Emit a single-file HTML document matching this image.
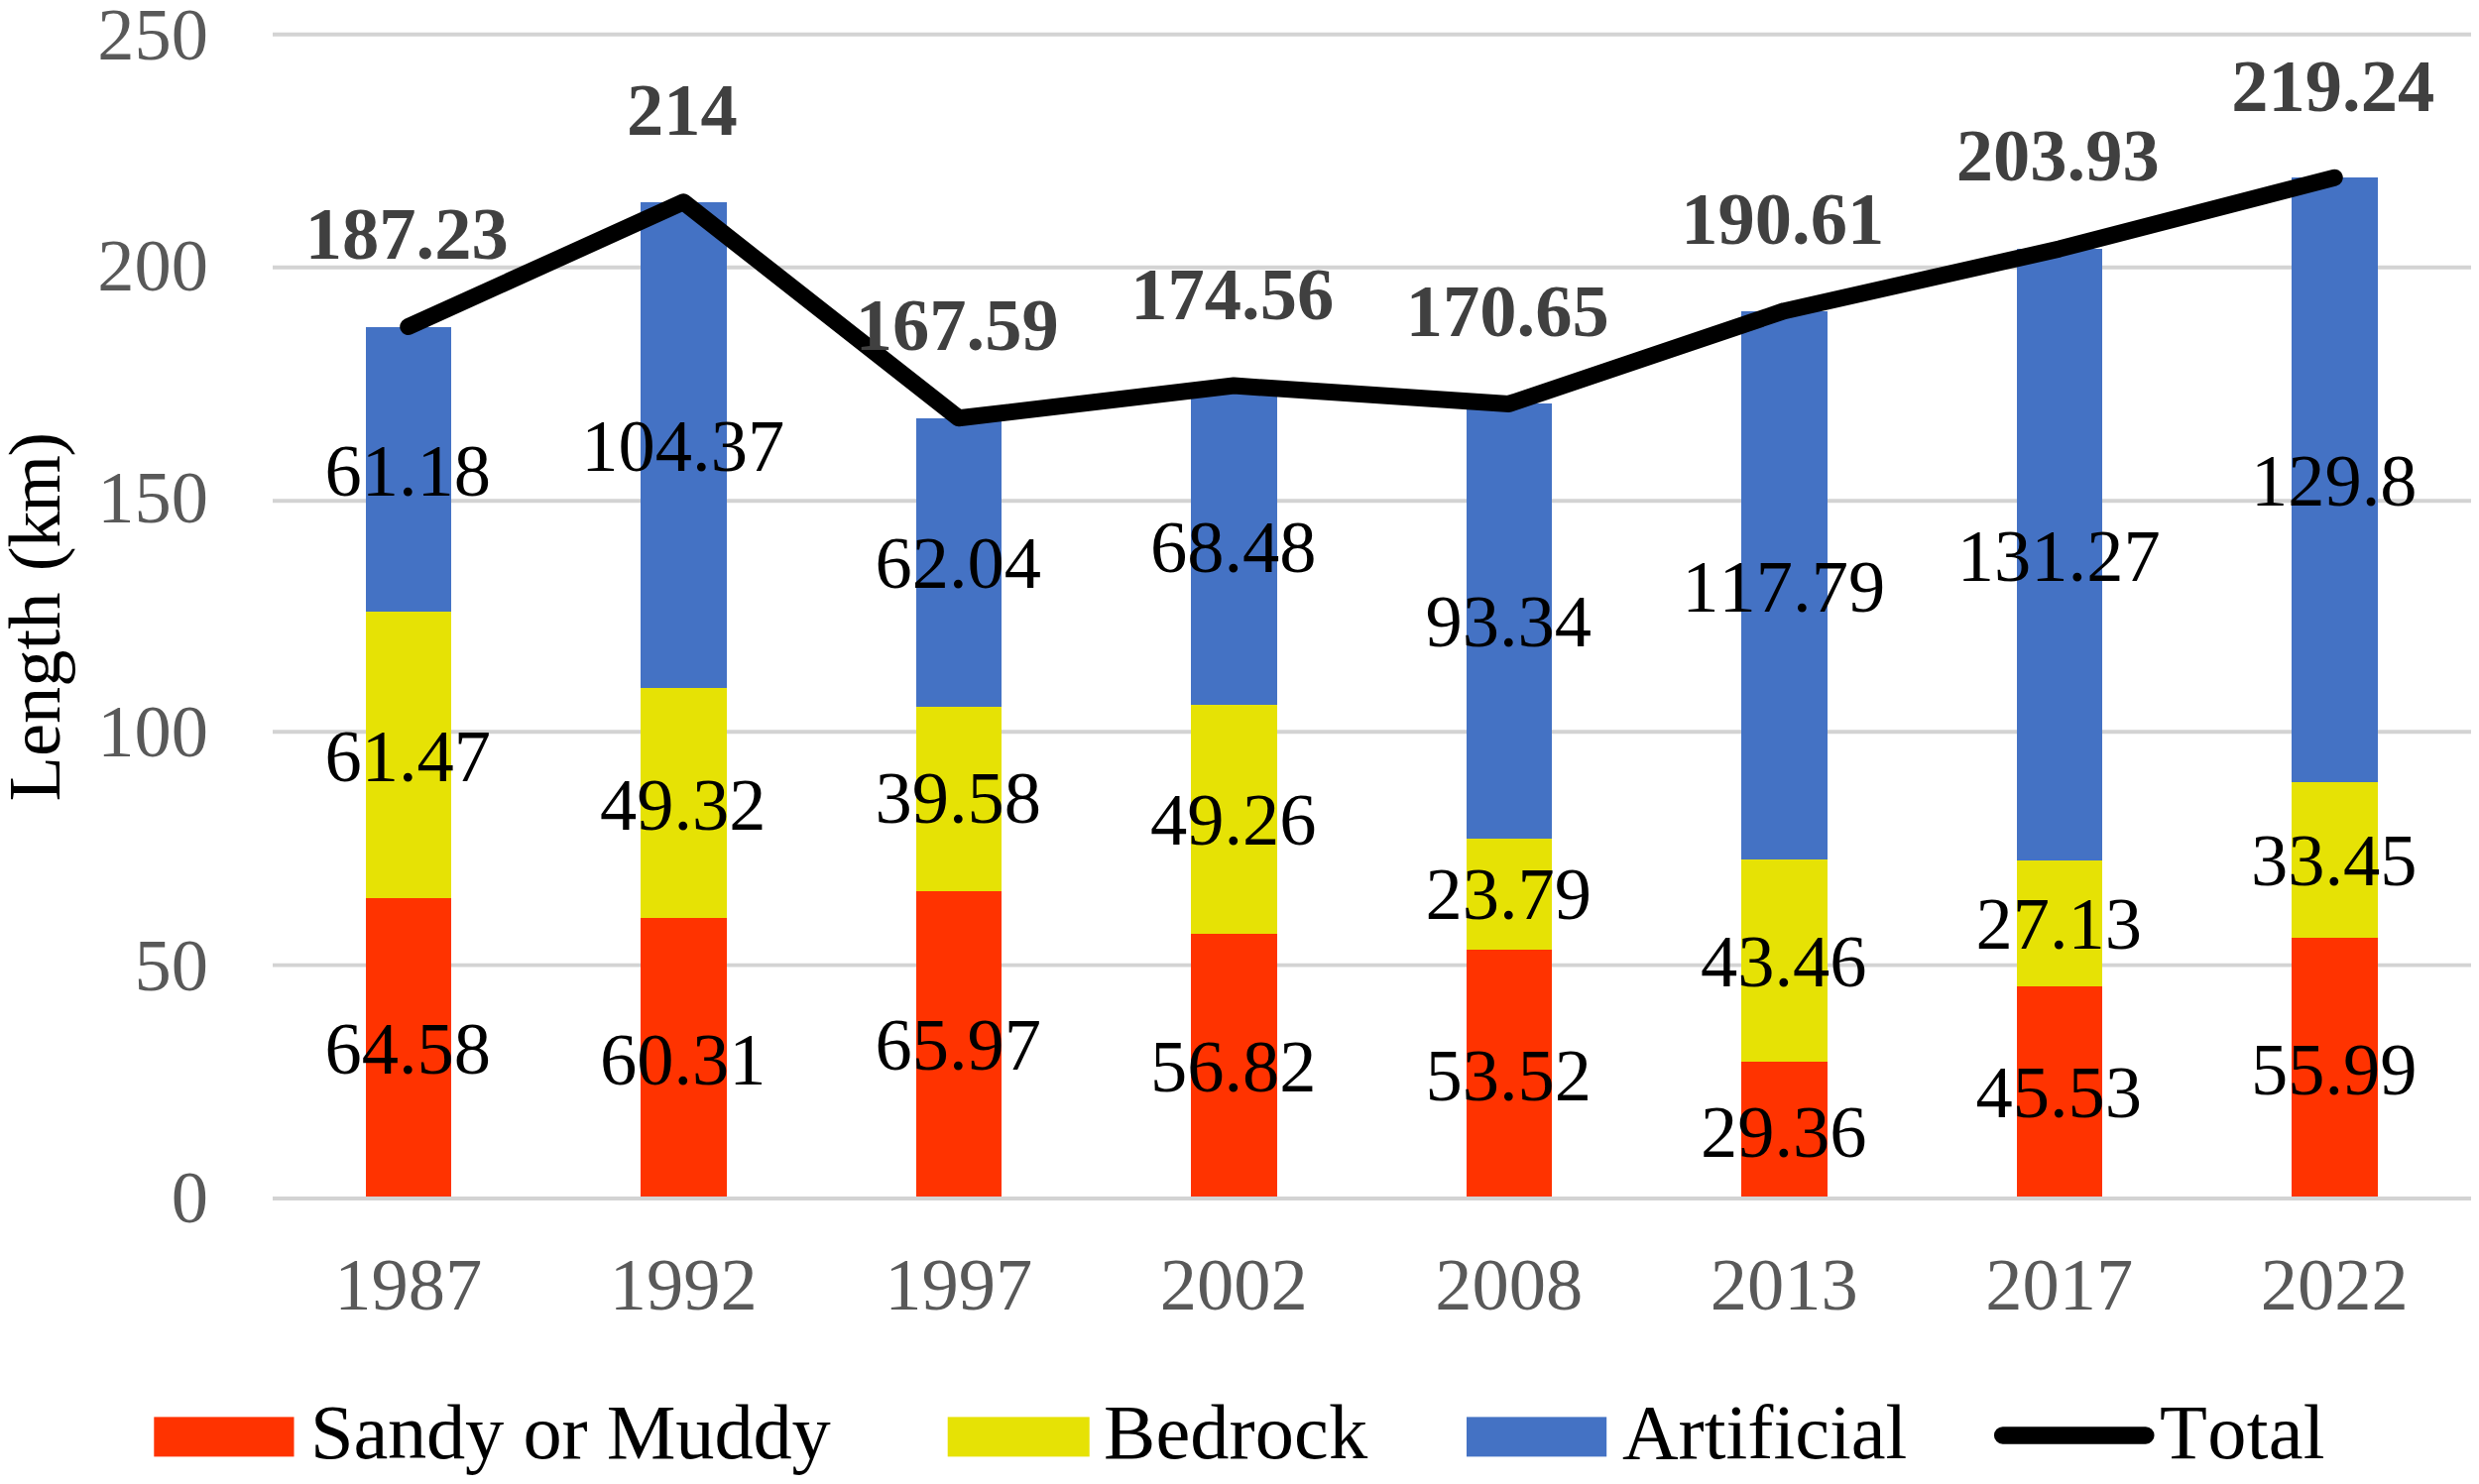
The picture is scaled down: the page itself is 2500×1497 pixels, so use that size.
<!DOCTYPE html>
<html lang="en"><head><meta charset="utf-8"><title>Coastline length by type</title>
<style>html,body{margin:0;padding:0;background:#fff}body{width:2500px;height:1497px;overflow:hidden}svg{display:block}svg{font-family:"Liberation Serif","Times New Roman",serif;font-size:74.5px;font-kerning:none}.ax{fill:#595959}.dl{fill:#000;text-anchor:middle}.tl{fill:#404040;font-weight:bold;text-anchor:middle}.lg{fill:#000;font-size:78.4px}</style></head><body>
<svg width="2500" height="1497" viewBox="0 0 2500 1497">
<rect width="2500" height="1497" fill="#fff"/>
<g stroke="#D3D3D3" stroke-width="3.9">
<line x1="275" x2="2492" y1="973.6" y2="973.6"/>
<line x1="275" x2="2492" y1="738.3" y2="738.3"/>
<line x1="275" x2="2492" y1="505.2" y2="505.2"/>
<line x1="275" x2="2492" y1="269.8" y2="269.8"/>
<line x1="275" x2="2492" y1="34.7" y2="34.7"/>
</g>
<g class="ax" text-anchor="end">
<text x="210" y="1233.4">0</text>
<text x="210" y="998.7">50</text>
<text x="210" y="763">100</text>
<text x="210" y="527.3">150</text>
<text x="210" y="292.7">200</text>
<text x="210" y="60.1">250</text>
</g>
<text transform="translate(60.2,808.6) rotate(-90)" fill="#000">Length <tspan dx="2.8" letter-spacing="-1.5">(km)</tspan></text>
<g shape-rendering="crispEdges">
<rect x="368.5" y="329.54" width="86.5" height="879.46" fill="#4472C4"/>
<rect x="368.5" y="616.92" width="86.5" height="592.08" fill="#E6E205"/>
<rect x="368.5" y="905.65" width="86.5" height="303.35" fill="#FF3300"/>
<rect x="646" y="203.8" width="86.5" height="1005.2" fill="#4472C4"/>
<rect x="646" y="694.05" width="86.5" height="514.95" fill="#E6E205"/>
<rect x="646" y="925.71" width="86.5" height="283.29" fill="#FF3300"/>
<rect x="923.5" y="421.8" width="86.5" height="787.2" fill="#4472C4"/>
<rect x="923.5" y="713.21" width="86.5" height="495.79" fill="#E6E205"/>
<rect x="923.5" y="899.13" width="86.5" height="309.87" fill="#FF3300"/>
<rect x="1201" y="389.06" width="86.5" height="819.94" fill="#4472C4"/>
<rect x="1201" y="710.72" width="86.5" height="498.28" fill="#E6E205"/>
<rect x="1201" y="942.11" width="86.5" height="266.89" fill="#FF3300"/>
<rect x="1478.5" y="407.42" width="86.5" height="801.58" fill="#4472C4"/>
<rect x="1478.5" y="845.86" width="86.5" height="363.14" fill="#E6E205"/>
<rect x="1478.5" y="957.61" width="86.5" height="251.39" fill="#FF3300"/>
<rect x="1756" y="313.67" width="86.5" height="895.33" fill="#4472C4"/>
<rect x="1756" y="866.95" width="86.5" height="342.05" fill="#E6E205"/>
<rect x="1756" y="1071.09" width="86.5" height="137.91" fill="#FF3300"/>
<rect x="2033.5" y="251.1" width="86.5" height="957.9" fill="#4472C4"/>
<rect x="2033.5" y="867.7" width="86.5" height="341.3" fill="#E6E205"/>
<rect x="2033.5" y="995.14" width="86.5" height="213.86" fill="#FF3300"/>
<rect x="2311" y="179.19" width="86.5" height="1029.81" fill="#4472C4"/>
<rect x="2311" y="788.88" width="86.5" height="420.12" fill="#E6E205"/>
<rect x="2311" y="946" width="86.5" height="263" fill="#FF3300"/>
</g>
<line x1="275" x2="2492" y1="1209" y2="1209" stroke="#D3D3D3" stroke-width="3.9"/>
<polyline points="411.75,329.54 689.25,203.8 966.75,421.8 1244.25,389.06 1521.75,407.42 1799.25,313.67 2076.75,251.1 2354.25,179.19" fill="none" stroke="#000" stroke-width="17" stroke-linecap="round" stroke-linejoin="round"/>
<g class="dl">
<text x="411.25" y="1082.51">64.58</text>
<text x="411.25" y="787.97">61.47</text>
<text x="411.25" y="499.91">61.18</text>
<text x="688.75" y="1093.54">60.31</text>
<text x="688.75" y="837.06">49.32</text>
<text x="688.75" y="475.1">104.37</text>
<text x="966.25" y="1079.14">65.97</text>
<text x="966.25" y="830.25">39.58</text>
<text x="966.25" y="593.48">62.04</text>
<text x="1243.75" y="1101.03">56.82</text>
<text x="1243.75" y="851.89">49.26</text>
<text x="1243.75" y="576.67">68.48</text>
<text x="1521.25" y="1109.78">53.52</text>
<text x="1521.25" y="927.21">23.79</text>
<text x="1521.25" y="651.72">93.34</text>
<text x="1798.75" y="1166.53">29.36</text>
<text x="1798.75" y="994.5">43.46</text>
<text x="1798.75" y="616.79">117.79</text>
<text x="2076.25" y="1127.05">45.53</text>
<text x="2076.25" y="956.9">27.13</text>
<text x="2076.25" y="585.88">131.27</text>
<text x="2353.75" y="1103.98">55.99</text>
<text x="2353.75" y="892.92">33.45</text>
<text x="2353.75" y="509.52">129.8</text>
</g>
<g class="tl">
<text x="410.25" y="260.54">187.23</text>
<text x="687.75" y="135.8">214</text>
<text x="965.25" y="353.3">167.59</text>
<text x="1242.75" y="321.56">174.56</text>
<text x="1520.25" y="339.42">170.65</text>
<text x="1797.75" y="245.67">190.61</text>
<text x="2075.25" y="182.4">203.93</text>
<text x="2352.75" y="111.69">219.24</text>
</g>
<g class="ax" text-anchor="middle">
<text x="411.75" y="1321">1987</text>
<text x="689.25" y="1321">1992</text>
<text x="966.75" y="1321">1997</text>
<text x="1244.25" y="1321">2002</text>
<text x="1521.75" y="1321">2008</text>
<text x="1799.25" y="1321">2013</text>
<text x="2076.75" y="1321">2017</text>
<text x="2354.25" y="1321">2022</text>
</g>
<g class="lg">
<rect x="155.3" y="1429.4" width="141.2" height="40" fill="#FF3300"/><text x="313" y="1471.3" letter-spacing="-0.18">Sandy or Muddy</text>
<rect x="955.7" y="1429.4" width="143" height="40" fill="#E6E205"/><text x="1113" y="1471.3" letter-spacing="0.1">Bedrock</text>
<rect x="1479" y="1429.4" width="141.2" height="40" fill="#4472C4"/><text x="1636" y="1471.3">Artificial</text>
<line x1="2019.7" x2="2163.8" y1="1447.9" y2="1447.9" stroke="#000" stroke-width="17.5" stroke-linecap="round"/><text x="2178" y="1471.3" letter-spacing="0.3">Total</text>
</g>
</svg></body></html>
